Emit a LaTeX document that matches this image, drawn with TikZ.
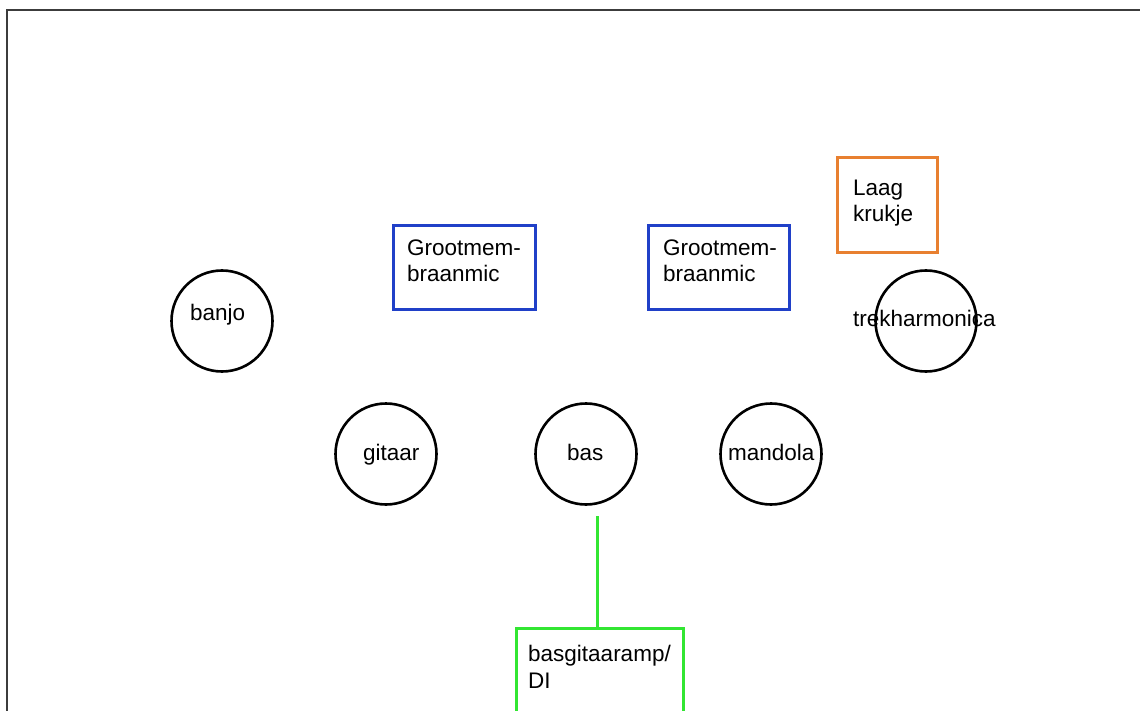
\documentclass[tikz,border=0pt]{standalone}
\usepackage{fontspec}
\setmainfont{Liberation Sans}
\definecolor{micblue}{RGB}{32,64,200}
\definecolor{stoolorange}{RGB}{232,128,48}
\definecolor{ampgreen}{RGB}{50,230,50}
\definecolor{framegray}{RGB}{60,60,60}
\begin{document}
\begin{tikzpicture}[x=1pt,y=-1pt,
  instr/.style={draw=black,line width=2.6pt,circle,minimum size=101pt,inner sep=0pt},
  boxshape/.style={draw,line width=2.6pt,rectangle,inner sep=0pt,anchor=north west},
  lbl/.style={inner sep=0pt,anchor=base west,align=left,font=\fontsize{22.5}{26.5}\selectfont},
]
\useasboundingbox (0,0) rectangle (1140,711);
\draw[framegray,line width=2.4pt] (7,730) -- (7,10) -- (1160,10);

% instruments
\node[instr] (banjo) at (222,321) {};
\node[lbl] (banjo-t) at (190,320) {banjo};
\node[instr] (gitaar) at (386,454) {};
\node[lbl] (gitaar-t) at (363,460) {gitaar};
\node[instr] (bas) at (586,454) {};
\node[lbl] (bas-t) at (567,460) {bas};
\node[instr] (mandola) at (771,454) {};
\node[lbl] (mandola-t) at (728,460) {mandola};
\node[instr] (trek) at (926,321) {};
\node[lbl] (trek-t) at (853,326) {trekharmonica};

% microphones
\node[boxshape,draw=micblue,minimum width=142pt,minimum height=84pt] (mic1) at (392,224) {};
\node[lbl] (mic1-t) at (407,282) {Grootmem-\\braanmic};
\node[boxshape,draw=micblue,minimum width=141pt,minimum height=84pt] (mic2) at (647,224) {};
\node[lbl] (mic2-t) at (663,282) {Grootmem-\\braanmic};

% stool
\node[boxshape,draw=stoolorange,minimum width=100pt,minimum height=95pt] (stool) at (836,156) {};
\node[lbl] (stool-t) at (853,222) {Laag\\krukje};

% amp
\node[boxshape,draw=ampgreen,minimum width=167pt,minimum height=110pt] (amp) at (515,627) {};
\node[lbl] (amp-t) at (528,688) {basgitaaramp/\\DI};

\coordinate (bastail) at (597.5,516);
\draw[ampgreen,line width=2.8pt] (bastail) -- (bastail |- amp.north);
\end{tikzpicture}
\end{document}
